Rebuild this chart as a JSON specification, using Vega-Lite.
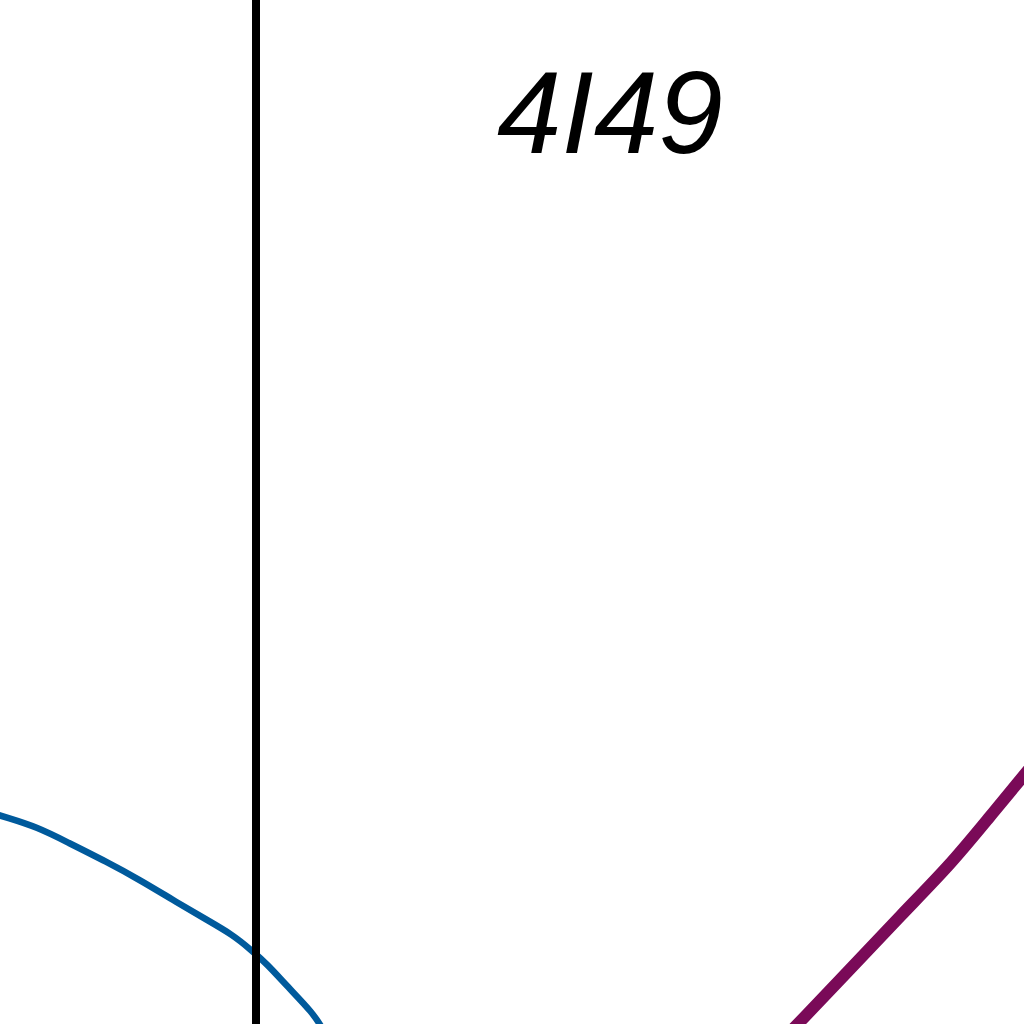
{
  "$schema": "https://vega.github.io/schema/vega-lite/v6.json",
  "width": 1024,
  "height": 1024,
  "autosize": {"type": "fit", "contains": "padding"},
  "padding": 0,
  "background": "white",
  "config": {"view": {"stroke": null}},
  "resolve": {"scale": {"x": "shared", "y": "shared"}},
  "layer": [
    {
      "data": {"values": [
        {"x": -5, "y": 814}, {"x": 5, "y": 817}, {"x": 37, "y": 827}, {"x": 67, "y": 842}, {"x": 107, "y": 862},
        {"x": 140, "y": 880}, {"x": 173, "y": 900}, {"x": 207, "y": 920}, {"x": 233, "y": 935},
        {"x": 250, "y": 949}, {"x": 267, "y": 964}, {"x": 287, "y": 986}, {"x": 313, "y": 1013}, {"x": 322, "y": 1028}
      ]},
      "mark": {"type": "line", "color": "#005a9c", "strokeWidth": 6.5, "interpolate": "basis", "clip": true},
      "encoding": {
        "x": {"field": "x", "type": "quantitative", "scale": {"domain": [0, 1024]}, "axis": null},
        "y": {"field": "y", "type": "quantitative", "scale": {"domain": [0, 1024], "reverse": true}, "axis": null}
      }
    },
    {
      "data": {"values": [
        {"x": 794, "y": 1028}, {"x": 858, "y": 961}, {"x": 903, "y": 913}, {"x": 950, "y": 865},
        {"x": 987, "y": 820}, {"x": 1030, "y": 768}
      ]},
      "mark": {"type": "line", "color": "#7a0a58", "strokeWidth": 12, "interpolate": "basis", "clip": true},
      "encoding": {
        "x": {"field": "x", "type": "quantitative", "scale": {"domain": [0, 1024]}, "axis": null},
        "y": {"field": "y", "type": "quantitative", "scale": {"domain": [0, 1024], "reverse": true}, "axis": null}
      }
    },
    {
      "data": {"values": [{"x": 256}]},
      "mark": {"type": "rule", "color": "black", "strokeWidth": 8, "clip": true},
      "encoding": {
        "x": {"field": "x", "type": "quantitative", "scale": {"domain": [0, 1024]}, "axis": null}
      }
    },
    {
      "data": {"values": [{"x": 610, "y": 153, "label": "4I49"}]},
      "mark": {"type": "text", "font": "Liberation Sans", "fontStyle": "italic", "fontSize": 116, "baseline": "alphabetic", "align": "center", "color": "black", "clip": true},
      "encoding": {
        "x": {"field": "x", "type": "quantitative", "scale": {"domain": [0, 1024]}, "axis": null},
        "y": {"field": "y", "type": "quantitative", "scale": {"domain": [0, 1024], "reverse": true}, "axis": null},
        "text": {"field": "label", "type": "nominal"}
      }
    }
  ]
}
